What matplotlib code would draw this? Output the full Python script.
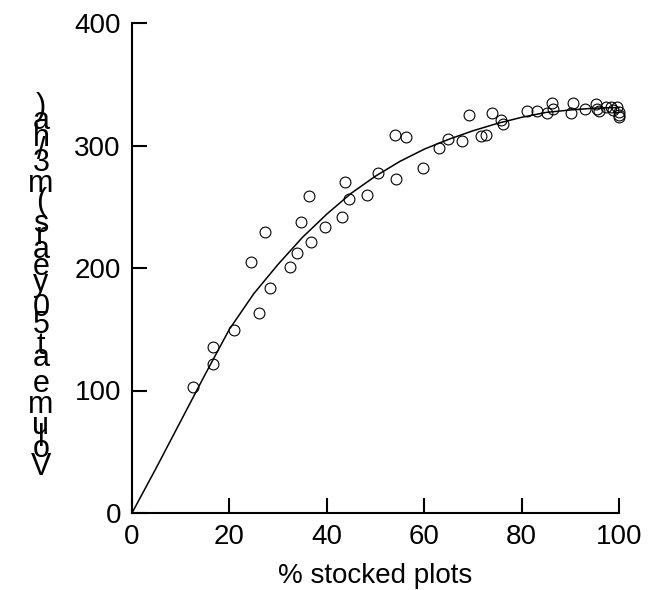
import matplotlib
matplotlib.use("Agg")
from matplotlib import pyplot as plt
import numpy as np

# observed plots: % stocked vs volume at 50 years
stocked = [12.6, 16.6, 16.6, 21.0, 24.4, 26.1, 27.3, 28.3, 32.4, 33.9,
           34.7, 36.3, 36.8, 39.6, 43.2, 43.7, 44.6, 48.2, 50.5, 54.1,
           54.2, 56.3, 59.7, 63.1, 64.8, 67.7, 69.2, 71.7, 72.6, 73.9,
           75.7, 76.2, 81.1, 83.1, 85.3, 86.2, 86.5, 90.5, 90.2, 93.0,
           95.2, 95.5, 95.9, 97.4, 98.3, 98.7, 99.6, 99.9, 100.0, 100.0]
volume = [102.6, 121.4, 135.3, 149.0, 205.1, 163.5, 229.1, 183.4, 201.1, 212.0,
          237.8, 258.8, 221.1, 233.7, 241.9, 270.4, 256.6, 259.8, 277.6, 308.6,
          272.7, 307.3, 281.5, 297.6, 305.5, 303.7, 324.5, 307.8, 308.4, 326.7,
          320.5, 317.3, 328.4, 328.4, 326.4, 334.4, 329.8, 334.7, 326.3, 329.6,
          333.8, 329.4, 328.2, 331.7, 331.7, 329.0, 331.7, 327.3, 324.9, 322.9]

# fitted curve
curve_x = [0, 5, 10, 15, 20, 25, 30, 35, 40, 45, 50,
           55, 60, 65, 70, 75, 80, 85, 90, 95, 100]
curve_y = [0, 37, 75, 113, 150, 179, 203, 225, 244, 261, 275,
           287, 297, 305, 312, 318, 323, 327, 329, 330.5, 331]

xticks = [0, 20, 40, 60, 80, 100]
yticks = [0, 100, 200, 300, 400]
ylabel = "Volume at 50 years (m3/ha)"

plt.rcParams['font.family'] = ['Liberation Sans', 'DejaVu Sans']

fig = plt.figure(figsize=(6.49, 5.90), dpi=100)
ax = fig.add_axes([132/649, 77/590, 487/649, 490/590])

ax.plot(curve_x, curve_y, color='black', lw=1.1, clip_on=False)
ax.plot(stocked, volume, 'o', mfc='none', mec='black', ms=7.8, mew=0.8,
        clip_on=False)

ax.set_xlim(0, 100)
ax.set_ylim(0, 400)
ax.set_xticks(xticks)
ax.set_yticks(yticks)
for s in ['top', 'right']:
    ax.spines[s].set_visible(False)
for s in ['left', 'bottom']:
    ax.spines[s].set_linewidth(1.5)
ax.tick_params(direction='in', length=11, width=1.5, labelsize=20)
ax.tick_params(axis='x', pad=8)
ax.tick_params(axis='y', pad=8)
ax.set_xlabel("% stocked plots", fontsize=20, labelpad=9)

# y label: upright glyphs stacked bottom to top
r = fig.canvas.get_renderer()
prop = matplotlib.font_manager.FontProperties(family='Liberation Sans', size=22)
def w(t):
    return r.get_text_width_height_descent(t + "x", prop, ismath=False)[0] - \
        r.get_text_width_height_descent("x", prop, ismath=False)[0]
x0 = 41
y0 = 113
for i, ch in enumerate(ylabel):
    if ch == " ":
        continue
    a = w(ylabel[:i])
    b = w(ylabel[:i + 1])
    fig.text(x0 / 100, (y0 + (a + b) / 2) / 100, ch, fontproperties=prop,
             ha='center', va='center', transform=fig.dpi_scale_trans)

fig.savefig("out.png", dpi=100)
